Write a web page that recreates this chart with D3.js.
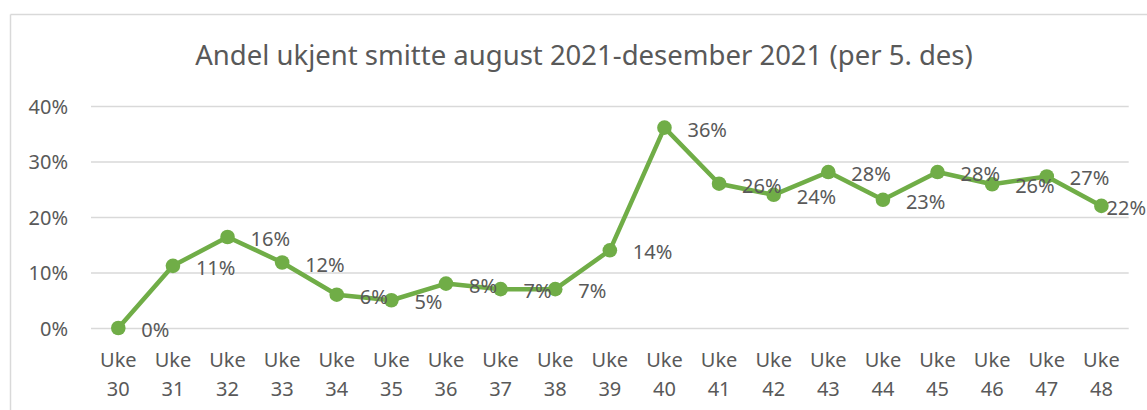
<!DOCTYPE html>
<html>
<head>
<meta charset="utf-8">
<script src="https://cdn.jsdelivr.net/npm/d3@7"></script>
<style>
  html, body { margin: 0; padding: 0; background: #fff; }
  svg { display: block; font-family: "Noto Sans", "Open Sans", sans-serif; }
</style>
</head>
<body>
<svg id="chart" width="1147" height="410"></svg>
<script>
const title = "Andel ukjent smitte august 2021-desember 2021 (per 5. des)";
const weeks = ["30","31","32","33","34","35","36","37","38","39","40","41","42","43","44","45","46","47","48"];
const categories = weeks.map(w => ["Uke", w]);
const values = [0.0, 0.112, 0.164, 0.118, 0.06, 0.05, 0.08, 0.07, 0.07, 0.14, 0.361, 0.26, 0.24, 0.281, 0.231, 0.281, 0.259, 0.273, 0.22];
const yTicks = [0, 0.1, 0.2, 0.3, 0.4];

const svg = d3.select("#chart");
const textColor = "#595959";
const green = "#70AD47";
const grid = "#D9D9D9";
const W = 1147;

// outer frame (top and left edges visible)
svg.append("line").attr("x1", 10.5).attr("x2", W).attr("y1", 14.5).attr("y2", 14.5)
  .attr("stroke", grid).attr("stroke-width", 1.5);
svg.append("line").attr("x1", 10.5).attr("x2", 10.5).attr("y1", 14.5).attr("y2", 410)
  .attr("stroke", grid).attr("stroke-width", 1.5);

// title
svg.append("text").attr("x", 584).attr("y", 65).attr("text-anchor", "middle")
  .attr("fill", textColor).attr("font-size", 27.5).text(title);

const x = d3.scaleBand().domain(weeks).range([91, 1128.7]);
const y = d3.scaleLinear().domain([0, 0.4]).range([328, 106]);
const cx = w => x(w) + x.bandwidth() / 2;

// gridlines + y labels
const yAxis = d3.axisLeft(y).tickValues(yTicks).tickFormat(d3.format(".0%"))
  .tickSize(-(1128.7 - 91)).tickPadding(23);
const gy = svg.append("g").attr("transform", "translate(91,0)").call(yAxis);
gy.select(".domain").remove();
gy.selectAll(".tick line").attr("stroke", grid).attr("stroke-width", 1.5);
gy.selectAll(".tick text").attr("fill", textColor).attr("font-size", 20)
  .attr("font-family", "Noto Sans, Open Sans, sans-serif").attr("dy", "0.35em");

// x labels
const xAxis = d3.axisBottom(x).tickSize(0).tickFormat(() => "");
const gx = svg.append("g").attr("transform", "translate(0,328)").call(xAxis);
gx.select(".domain").remove();
gx.selectAll(".tick").each(function(w, i) {
  const t = d3.select(this).append("text").attr("fill", textColor).attr("font-size", 20)
    .attr("text-anchor", "middle").attr("font-family", "Noto Sans, Open Sans, sans-serif");
  t.append("tspan").attr("x", 0).attr("y", 39).text(categories[i][0]);
  t.append("tspan").attr("x", 0).attr("y", 68).text(categories[i][1]);
});

// line
const line = d3.line().x((d, i) => cx(weeks[i])).y(d => y(d));
svg.append("path").datum(values).attr("d", line).attr("fill", "none")
  .attr("stroke", green).attr("stroke-width", 4.5).attr("stroke-linejoin", "round");

// markers
svg.append("g").selectAll("circle").data(values).join("circle")
  .attr("cx", (d, i) => cx(weeks[i])).attr("cy", d => y(d)).attr("r", 7.3).attr("fill", green);

// data labels (kept inside the frame on the right)
svg.append("g").selectAll("text").data(values).join("text")
  .attr("y", d => y(d) + 2)
  .attr("dy", "0.35em").attr("fill", textColor).attr("font-size", 20)
  .text(d => d3.format(".0%")(d))
  .attr("x", function(d, i) {
    const w = this.getComputedTextLength();
    return Math.min(cx(weeks[i]) + 23, W - w - 1);
  });
</script>
</body>
</html>
